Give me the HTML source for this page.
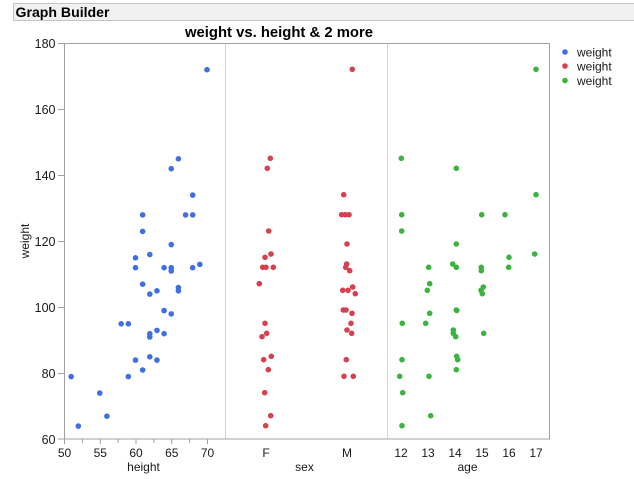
<!DOCTYPE html>
<html>
<head>
<meta charset="utf-8">
<style>
html,body{margin:0;padding:0;background:#fff;}
svg{display:block;}
text{font-family:"Liberation Sans",Arial,sans-serif;}
</style>
</head>
<body>
<svg width="634" height="479" viewBox="0 0 634 479" xmlns="http://www.w3.org/2000/svg">
<defs>
<marker id="mb" markerUnits="userSpaceOnUse" markerWidth="8" markerHeight="8" refX="4" refY="4" overflow="visible"><circle cx="4" cy="4" r="2.8" fill="#3f6fe0"/></marker>
<marker id="mr" markerUnits="userSpaceOnUse" markerWidth="8" markerHeight="8" refX="4" refY="4" overflow="visible"><circle cx="4" cy="4" r="2.8" fill="#d6414f"/></marker>
<marker id="mg" markerUnits="userSpaceOnUse" markerWidth="8" markerHeight="8" refX="4" refY="4" overflow="visible"><circle cx="4" cy="4" r="2.8" fill="#3bb43f"/></marker>
</defs>
<rect x="0" y="0" width="634" height="479" fill="#fff"/>
<rect x="13.5" y="3.5" width="625" height="17" fill="#f0f0f0" stroke="#c4c4c4" stroke-width="1"/>
<text x="15.5" y="17" font-size="14" font-weight="bold" fill="#000" textLength="94" lengthAdjust="spacingAndGlyphs">Graph Builder</text>
<text x="185" y="37" font-size="14.5" font-weight="bold" fill="#000" textLength="188" lengthAdjust="spacingAndGlyphs">weight vs. height &amp; 2 more</text>
<line x1="225.5" y1="43" x2="225.5" y2="439" stroke="#d4d4d4" stroke-width="1"/>
<line x1="387.5" y1="43" x2="387.5" y2="439" stroke="#d4d4d4" stroke-width="1"/>
<rect x="64.5" y="43.5" width="485" height="395.5" fill="none" stroke="#a0a0a0" stroke-width="1"/>
<path d="M58 43.5H64.5M58 109.5H64.5M58 175.5H64.5M58 241.5H64.5M58 307.5H64.5M58 373.5H64.5M58 439H64.5" stroke="#a0a0a0" stroke-width="1" fill="none"/>
<path d="M64.5 439V444M82.4 439V443M100.3 439V444M118.1 439V443M136 439V444M153.9 439V443M171.8 439V444M189.6 439V443M207.5 439V444" stroke="#a0a0a0" stroke-width="1" fill="none"/>
<g font-size="12.5" fill="#1a1a1a" text-anchor="end">
<text x="55.5" y="48">180</text>
<text x="55.5" y="114">160</text>
<text x="55.5" y="180">140</text>
<text x="55.5" y="246">120</text>
<text x="55.5" y="312">100</text>
<text x="55.5" y="378">80</text>
<text x="55.5" y="444">60</text>
</g>
<text transform="translate(29,241) rotate(-90)" font-size="12" fill="#1a1a1a" text-anchor="middle">weight</text>
<g font-size="12" fill="#1a1a1a" text-anchor="middle">
<text x="64.5" y="457">50</text>
<text x="100.3" y="457">55</text>
<text x="136" y="457">60</text>
<text x="171.8" y="457">65</text>
<text x="207.5" y="457">70</text>
<text x="266" y="457">F</text>
<text x="347" y="457">M</text>
<text x="401" y="457">12</text>
<text x="428" y="457">13</text>
<text x="455" y="457">14</text>
<text x="482" y="457">15</text>
<text x="509" y="457">16</text>
<text x="536" y="457">17</text>
<text x="143.5" y="471">height</text>
<text x="304.5" y="471">sex</text>
<text x="467.5" y="471">age</text>
</g>
<circle cx="565" cy="52" r="2.8" fill="#3f6fe0"/>
<circle cx="565" cy="66" r="2.8" fill="#d6414f"/>
<circle cx="565" cy="80.5" r="2.8" fill="#3bb43f"/>
<g font-size="12" fill="#1a1a1a">
<text x="577" y="56.5">weight</text>
<text x="577" y="70.5">weight</text>
<text x="577" y="85">weight</text>
</g>
<polyline fill="none" stroke="none" marker-start="url(#mb)" marker-mid="url(#mb)" marker-end="url(#mb)" points="128.35,323.8 142.65,231.4 99.75,393.1 178.4,158.8 78.3,426.1 135.5,360.1 142.65,214.9 71.15,376.6 135.5,267.7 142.65,284.2 106.9,416.2 171.25,313.9 156.95,290.8 121.2,323.8 128.35,376.6 142.65,370 149.8,337 171.25,168.7 156.95,360.1 149.8,356.8 156.95,330.4 164.1,310.6 171.25,244.6 164.1,333.7 192.7,267.7 199.85,264.4 149.8,333.7 164.1,267.7 185.55,214.9 171.25,271 178.4,290.8 149.8,294.1 178.4,287.5 171.25,267.7 135.5,257.8 192.7,214.9 149.8,254.5 192.7,195.1 207,69.7"/>
<polyline fill="none" stroke="none" marker-start="url(#mr)" marker-mid="url(#mr)" marker-end="url(#mr)" points="352.3,69.3 343.7,194.7 341.7,214.7 345.3,214.7 349,214.7 347,244 346.7,264 345.7,267.3 349.7,270.7 342.7,290.3 348,290.3 352.7,287 355.3,293.7 343.3,310 346,310 352,313.3 351,323.3 347,330 351.7,333.3 346.3,359.7 344,376.3 353.3,376.3 270.3,158.3 267.3,168.3 268.7,231 271,254 265,257.3 262.7,267.3 266,267.3 273.3,267.3 259.3,283.7 265,323.3 266.7,333.3 262,336.7 271.3,356.3 263.7,359.7 268.3,369.7 264.7,392.7 270.7,415.7 265.7,425.7"/>
<polyline fill="none" stroke="none" marker-start="url(#mg)" marker-mid="url(#mg)" marker-end="url(#mg)" points="536,69.3 401.3,158.3 456.3,168.3 536,194.7 401.7,214.7 481.7,214.7 505,214.7 401.7,231 456.3,244 534.7,254 509,257.3 428.7,267.3 452.7,264 456.3,267.3 481.3,267.3 481.3,270.7 508.7,267.3 429.7,283.7 427.3,290.3 483.3,287 481,290.3 482.3,293.7 429.7,313.3 456.3,310 456.8,310.5 402.3,323.3 425.7,323.3 453.3,330 453.3,333.3 455.7,336.7 483.7,333.3 402,359.7 456.7,356.3 457.7,359.7 456.3,369.7 399.7,376.3 429,376.3 402.7,392.7 430.7,415.7 402,425.7"/>
</svg>
</body>
</html>
